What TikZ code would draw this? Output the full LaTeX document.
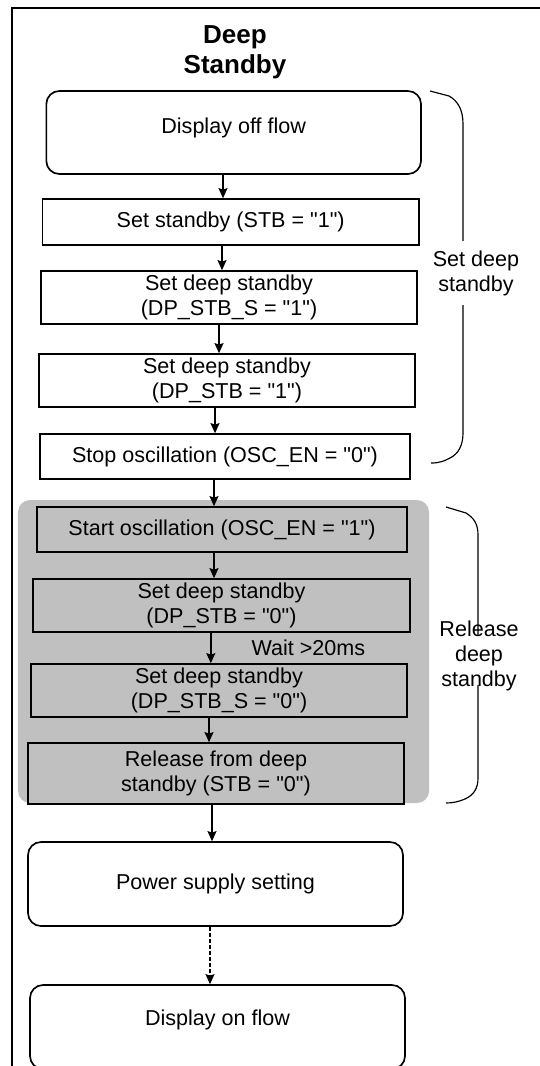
\documentclass[tikz,border=0pt]{standalone}
\usepackage{fontspec}
\setmainfont{Liberation Sans}[Ligatures=TeXOff]
\usetikzlibrary{arrows.meta}
\definecolor{groupgrey}{HTML}{C0C0C0}

\begin{document}
\begin{tikzpicture}[x=1cm,y=1cm,font=\fontsize{18.4}{21.3}\selectfont,
  stepbox/.style={draw=black,line width=0.05cm,fill=white,inner sep=0pt,align=center,minimum width=11.28cm,minimum height=1.59cm},
  termbox/.style={stepbox,rounded corners=0.39cm,minimum width=11.25cm,minimum height=2.52cm},
  flow/.style={line width=0.04cm,-{Stealth[length=0.3cm,width=0.27cm,inset=0.04cm]}},
  bracket/.style={line width=0.035cm}]
\useasboundingbox (0,0) rectangle (16.2,-31.98);
\clip (0,0) rectangle (16.2,-31.98);
\draw[line width=0.045cm] (16.4,-0.24) -- (0.36,-0.24) -- (0.36,-32.2);
\node[font=\fontsize{22.2}{25.5}\selectfont\bfseries,align=center,inner sep=0pt] (title-0) at (7.05,-1.575) {Deep\\Standby};
% set deep standby
\node[termbox,minimum width=11.24cm,minimum height=2.49cm,text depth=0.4cm] (display-off) at (7.01,-3.975) {Display off flow};
\node[stepbox,minimum width=11.3cm,minimum height=1.38cm] (set-stb-1) at (6.92,-6.66) {Set standby (STB = "1")};
\node[stepbox] (set-dpstbs-1) at (6.87,-8.925) {Set deep standby\\(DP\_STB\_S = "1")};
\node[stepbox] (set-dpstb-1) at (6.81,-11.415) {Set deep standby\\(DP\_STB = "1")};
\node[stepbox,minimum width=11.1cm,minimum height=1.35cm] (stop-osc) at (6.75,-13.695) {Stop oscillation (OSC\_EN = "0")};
% release deep standby
\path[fill=groupgrey,draw=none,rounded corners=0.36cm] (0.54,-15.0) rectangle (12.87,-24.09);
\node[stepbox,fill=groupgrey,minimum width=11.1cm,minimum height=1.35cm] (start-osc) at (6.66,-15.885) {Start oscillation (OSC\_EN = "1")};
\node[stepbox,fill=groupgrey,minimum width=11.31cm] (set-dpstb-0) at (6.645,-18.165) {Set deep standby\\(DP\_STB = "0")};
\node[stepbox,fill=groupgrey] (set-dpstbs-0) at (6.57,-20.715) {Set deep standby\\(DP\_STB\_S = "0")};
\node[stepbox,fill=groupgrey,minimum height=1.83cm] (release-stb) at (6.48,-23.205) {Release from deep\\standby (STB = "0")};
\node[termbox] (power-setting) at (6.465,-26.52) {Power supply setting};
\node[termbox,text depth=0.55cm] (display-on) at (6.525,-30.81) {Display on flow};
% arrows
\draw[flow] ([xshift=-0.32cm]display-off.south) -- ([xshift=-0.32cm]display-off.south |- set-stb-1.north);
\draw[flow] ([xshift=-0.26cm]set-stb-1.south) -- ([xshift=-0.26cm]set-stb-1.south |- set-dpstbs-1.north);
\draw[flow] ([xshift=-0.3cm]set-dpstbs-1.south) -- ([xshift=-0.3cm]set-dpstbs-1.south |- set-dpstb-1.north);
\draw[flow] ([xshift=-0.36cm]set-dpstb-1.south) -- ([xshift=-0.36cm]set-dpstb-1.south |- stop-osc.north);
\draw[flow] ([xshift=-0.33cm]stop-osc.south) -- ([xshift=-0.33cm]stop-osc.south |- start-osc.north);
\draw[flow] ([xshift=-0.24cm]start-osc.south) -- ([xshift=-0.24cm]start-osc.south |- set-dpstb-0.north);
\draw[flow] ([xshift=-0.32cm]set-dpstb-0.south) -- ([xshift=-0.32cm]set-dpstb-0.south |- set-dpstbs-0.north)
  node[midway,anchor=west,xshift=1.2cm,inner sep=0pt] (wait-label) {Wait >20ms};
\draw[flow] ([xshift=-0.3cm]set-dpstbs-0.south) -- ([xshift=-0.3cm]set-dpstbs-0.south |- release-stb.north);
\draw[flow] ([xshift=-0.12cm]release-stb.south) -- ([xshift=-0.12cm]release-stb.south |- power-setting.north);
\draw[flow,dash pattern=on 0.12cm off 0.06cm] ([xshift=-0.165cm]power-setting.south) -- ([xshift=-0.165cm]power-setting.south |- display-on.north);
% brackets
\draw[bracket] (12.9,-2.73) -- (13.47,-2.88) .. controls (13.74,-3.03) and (13.89,-3.3) .. (13.89,-3.72) -- (13.89,-12.99) .. controls (13.89,-13.38) and (13.74,-13.62) .. (13.5,-13.74) .. controls (13.32,-13.83) and (13.2,-13.89) .. (12.93,-13.89);
\node[fill=white,align=center,inner xsep=0pt,inner ysep=0.28cm] (bracket-label-0) at (14.28,-8.2) {Set deep\\standby};
\draw[bracket] (13.38,-15.21) -- (13.98,-15.39) .. controls (14.22,-15.54) and (14.34,-15.72) .. (14.34,-16.05) -- (14.34,-19.05);
\draw[bracket] (14.34,-20.55) -- (14.34,-23.34) .. controls (14.34,-23.64) and (14.22,-23.85) .. (13.95,-23.97) .. controls (13.74,-24.06) and (13.56,-24.09) .. (13.38,-24.09);
\node[align=center,inner sep=0pt] (bracket-label-1) at (14.37,-19.68) {Release\\deep\\standby};
\end{tikzpicture}
\end{document}
